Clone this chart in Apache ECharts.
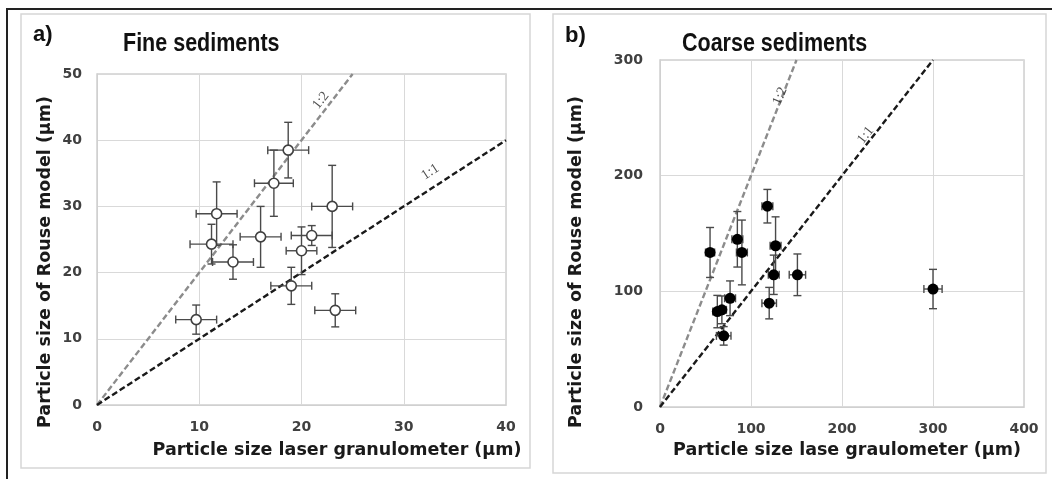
<!DOCTYPE html>
<html>
<head>
<meta charset="utf-8">
<script src="https://cdn.jsdelivr.net/npm/echarts@6/dist/echarts.min.js"></script>
<style>
html,body{margin:0;padding:0;background:#fff;}
#chart{width:1052px;height:479px;}
</style>
</head>
<body>
<div id="chart"></div>
<script>
// ---- Data: fine sediments (panel a) ----
const fineX    = [9.7, 11.2, 11.7, 13.3, 16.0, 17.3, 18.7, 19.0, 20.0, 21.0, 23.0, 23.3];
const fineY    = [12.9, 24.3, 28.9, 21.6, 25.4, 33.5, 38.5, 18.0, 23.3, 25.6, 30.0, 14.3];
const fineXErr = [2.0, 2.1, 2.0, 2.0, 2.0, 1.9, 2.0, 2.0, 1.5, 2.0, 2.0, 2.0];
const fineYErr = [2.2, 3.0, 4.8, 2.6, 4.6, 5.0, 4.2, 2.8, 3.6, 1.5, 6.2, 2.5];

// ---- Data: coarse sediments (panel b) ----
const coarseX    = [55, 63, 68, 70, 77, 85, 90, 118, 120, 125, 127, 151, 300];
const coarseY    = [133.6, 82.5, 84, 61.5, 94, 145, 133.6, 173.6, 89.8, 114.3, 139.4, 114.3, 102];
const coarseXErr = [5, 5, 5, 8, 6, 6, 6, 6, 8, 6, 6, 9, 10];
const coarseYErr = [21.6, 14, 12, 8, 15, 24, 28, 14.5, 13.6, 17, 25, 18, 17];

// ---- Reference lines (1:1 and 1:2) ----
const lineA11 = [[0, 0], [40, 40]];
const lineA12 = [[0, 0], [25, 50]];
const lineB11 = [[0, 0], [300, 300]];
const lineB12 = [[0, 0], [150, 300]];

// ---- Line label anchors ----
const labelA = [{pos: [21.9, 46.0], text: '1:2', rot: 52}, {pos: [32.6, 35.2], text: '1:1', rot: 33}];
const labelB = [{pos: [131.9, 268.7], text: '1:2', rot: 68}, {pos: [226, 235], text: '1:1', rot: 52}];

// ---- Axis ticks ----
const axisA = {min: 0, max: 40, interval: 10, ymin: 0, ymax: 50, yinterval: 10};
const axisB = {min: 0, max: 400, interval: 100, ymin: 0, ymax: 300, yinterval: 100};

// ---- Texts ----
const xNameA = 'Particle size laser granulometer (µm)';
const xNameB = 'Particle size lase graulometer (µm)';
const yName = 'Particle size of Rouse model (µm)';

function pack(xs, ys, xe, ye) {
  return xs.map((x, i) => [x, ys[i], xe[i], ye[i]]);
}

function errRender(params, api) {
  const x = api.value(0), y = api.value(1), ex = api.value(2), ey = api.value(3);
  const l = api.coord([x - ex, y]), r = api.coord([x + ex, y]);
  const t = api.coord([x, y + ey]), b = api.coord([x, y - ey]);
  const c = 4;
  const st = {stroke: '#4a4a4a', lineWidth: 1.4};
  const mk = (x1, y1, x2, y2) => ({type: 'line', shape: {x1, y1, x2, y2}, style: st});
  return {
    type: 'group',
    children: [
      mk(l[0], l[1], r[0], r[1]),
      mk(l[0], l[1] - c, l[0], l[1] + c),
      mk(r[0], r[1] - c, r[0], r[1] + c),
      mk(t[0], t[1], b[0], b[1]),
      mk(t[0] - c, t[1], t[0] + c, t[1]),
      mk(b[0] - c, b[1], b[0] + c, b[1])
    ]
  };
}

const tickFont = {color: '#404040', fontWeight: 'bold', fontSize: 14, fontFamily: 'DejaVu Sans, Verdana, sans-serif'};
const nameFontStr = 'bold 17.5px "DejaVu Sans", Verdana, sans-serif';
const titleFontStr = 'bold 25px "Liberation Sans", Arial, sans-serif';
const gridLine = {show: true, lineStyle: {color: '#d9d9d9', width: 1}};

function xAxis(idx, ax) {
  return {
    type: 'value', gridIndex: idx, min: ax.min, max: ax.max, interval: ax.interval,
    axisLine: {show: true, lineStyle: {color: '#d0d0d0', width: 1}},
    axisTick: {show: false}, axisLabel: Object.assign({margin: 15}, tickFont),
    splitLine: gridLine
  };
}
function yAxis(idx, ax, margin) {
  return {
    type: 'value', gridIndex: idx, min: ax.ymin, max: ax.ymax, interval: ax.yinterval,
    axisLine: {show: true, lineStyle: {color: '#d0d0d0', width: 1}},
    axisTick: {show: false}, axisLabel: Object.assign({margin: margin}, tickFont),
    splitLine: gridLine
  };
}

function refLine(idx, data, color) {
  return {
    type: 'line', xAxisIndex: idx, yAxisIndex: idx, data: data, symbol: 'none', z: 1,
    lineStyle: {color: color, width: 2.4, type: [6, 3]}, silent: true, animation: false
  };
}
function lineLabels(idx, items) {
  return {
    type: 'scatter', xAxisIndex: idx, yAxisIndex: idx, symbolSize: 0, z: 4, silent: true,
    data: items.map(it => ({value: it.pos, label: {show: true, formatter: it.text, rotate: it.rot}})),
    label: {position: 'inside', color: '#222', fontSize: 14, fontFamily: 'Liberation Serif, Times New Roman, serif'}
  };
}

function txt(x, y, text, font, rot, scaleX) {
  return {type: 'text', x: x, y: y, rotation: rot || 0, scaleX: scaleX || 1, z: 100,
    style: {text: text, font: font, fill: '#1a1a1a', textAlign: 'center', textVerticalAlign: 'middle'}};
}

const chart = echarts.init(document.getElementById('chart'), null, {renderer: 'canvas'});
chart.setOption({
  animation: false,
  backgroundColor: '#fff',
  grid: [
    {left: 97, top: 74, width: 409, height: 331, show: true, borderColor: '#cfcfcf', borderWidth: 1.5},
    {left: 660, top: 60, width: 364, height: 347, show: true, borderColor: '#cfcfcf', borderWidth: 1.5}
  ],
  xAxis: [xAxis(0, axisA), xAxis(1, axisB)],
  yAxis: [yAxis(0, axisA, 15), yAxis(1, axisB, 17)],
  graphic: [
    {type: 'rect', shape: {x: 7, y: 9, width: 1200, height: 600}, style: {fill: 'none', stroke: '#222', lineWidth: 2}, z: 100},
    {type: 'rect', shape: {x: 21, y: 14, width: 509, height: 454}, style: {fill: 'none', stroke: '#d6d6d6', lineWidth: 1.5}, z: 100},
    {type: 'rect', shape: {x: 553, y: 14, width: 493, height: 459}, style: {fill: 'none', stroke: '#d6d6d6', lineWidth: 1.5}, z: 100},
    {type: 'text', x: 33, y: 35, z: 100, style: {text: 'a)', font: 'bold 22px "Liberation Sans", Arial, sans-serif', fill: '#111', textVerticalAlign: 'middle'}},
    {type: 'text', x: 123, y: 44, scaleX: 0.86, z: 100, style: {text: 'Fine sediments', font: titleFontStr, fill: '#111', textVerticalAlign: 'middle'}},
    {type: 'text', x: 565, y: 36, z: 100, style: {text: 'b)', font: 'bold 22px "Liberation Sans", Arial, sans-serif', fill: '#111', textVerticalAlign: 'middle'}},
    {type: 'text', x: 682, y: 44, scaleX: 0.86, z: 100, style: {text: 'Coarse sediments', font: titleFontStr, fill: '#111', textVerticalAlign: 'middle'}},
    txt(337, 450, xNameA, nameFontStr),
    txt(847, 450, xNameB, nameFontStr),
    txt(45, 262, yName, nameFontStr, Math.PI / 2),
    txt(576, 262, yName, nameFontStr, Math.PI / 2)
  ],
  series: [
    refLine(0, lineA12, '#8c8c8c'),
    refLine(0, lineA11, '#1a1a1a'),
    refLine(1, lineB12, '#8c8c8c'),
    refLine(1, lineB11, '#1a1a1a'),
    {type: 'custom', xAxisIndex: 0, yAxisIndex: 0, renderItem: errRender, data: pack(fineX, fineY, fineXErr, fineYErr), z: 2, encode: {x: 0, y: 1}},
    {type: 'custom', xAxisIndex: 1, yAxisIndex: 1, renderItem: errRender, data: pack(coarseX, coarseY, coarseXErr, coarseYErr), z: 2, encode: {x: 0, y: 1}},
    {type: 'scatter', xAxisIndex: 0, yAxisIndex: 0, z: 3, symbol: 'circle', symbolSize: 10,
     data: fineX.map((x, i) => [x, fineY[i]]),
     itemStyle: {color: '#fff', borderColor: '#404040', borderWidth: 1.6, opacity: 1}},
    {type: 'scatter', xAxisIndex: 1, yAxisIndex: 1, z: 3, symbol: 'circle', symbolSize: 11,
     data: coarseX.map((x, i) => [x, coarseY[i]]),
     itemStyle: {color: '#000', opacity: 1}},
    lineLabels(0, labelA),
    lineLabels(1, labelB)
  ]
});
</script>
</body>
</html>
